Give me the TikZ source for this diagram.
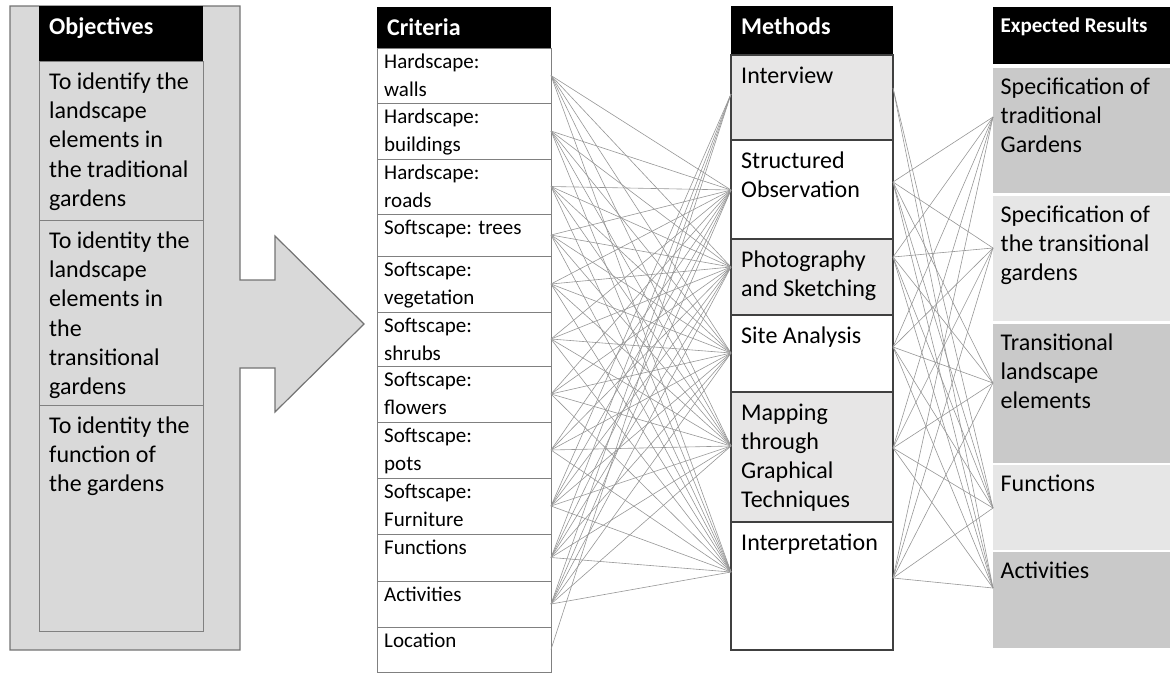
\documentclass[tikz,border=0pt]{standalone}
\usepackage{fontspec}
\setmainfont{Carlito}
\definecolor{panelgray}{RGB}{217,217,217}
\definecolor{rowgray}{RGB}{231,230,230}
\definecolor{resdark}{RGB}{201,201,201}
\definecolor{reslight}{RGB}{230,230,230}
\definecolor{linkgray}{RGB}{150,150,150}
\tikzset{
  cell/.style={anchor=north west, inner sep=0pt, outer sep=0pt},
  txt/.style={anchor=north west, align=left, text width=165,
    execute at begin node={\spaceskip=0pt\xspaceskip=0pt\strut}},
  hdrtxt/.style={txt, text=white, inner xsep=10, inner ysep=8, font=\bfseries\fontsize{24}{29}\selectfont},
  objtxt/.style={txt, inner xsep=10, inner ysep=7.5, font=\fontsize{24}{29.3}\selectfont},
  crittxt/.style={txt, inner xsep=7, inner ysep=1, font=\fontsize{21}{28}\selectfont},
  methtxt/.style={txt, inner xsep=10, inner ysep=8, font=\fontsize{24}{29}\selectfont},
  restxt/.style={txt, inner xsep=7.5, inner ysep=6, font=\fontsize{24}{29}\selectfont},
  objbox/.style={cell, draw=black!50, fill=panelgray, minimum width=164, line width=0.8},
  critbox/.style={cell, draw=black!50, fill=white, minimum width=174, line width=0.8},
  methbox/.style={cell, draw=black!75, minimum width=162, line width=1.3},
  resbox/.style={cell, minimum width=177},
  link/.style={draw=linkgray, line width=0.6}
}
\begin{document}
\begin{tikzpicture}[x=1pt, y=-1pt]
  \useasboundingbox (0,0) rectangle (1170,673);

  % objectives panel and arrow
  \draw[draw=black!55, fill=panelgray, line width=1.2] (10,6) -- (240,6) -- (240,280) -- (275,280)
    -- (275,236) -- (364,324) -- (275,412) -- (275,368) -- (240,368) -- (240,650) -- (10,650) -- cycle;
  \node[cell, fill=black, minimum width=164, minimum height=55, label={[hdrtxt]north west:Objectives}] (obj) at (39,6) {};
  \node[objbox, minimum height=159, label={[objtxt]north west:{To identify the\\landscape\\elements in\\the traditional\\gardens}}] (o1) at (39,61) {};
  \node[objbox, minimum height=185, label={[objtxt]north west:{To identity the\\landscape\\elements in\\the\\transitional\\gardens}}] (o2) at (39,220) {};
  \node[objbox, minimum height=226, label={[objtxt]north west:{To identity the\\function of\\the gardens}}] (o3) at (39,405) {};

  % criteria
  \node[cell, fill=black, minimum width=174, minimum height=41, label={[hdrtxt]north west:Criteria}] (crit) at (377,7) {};
  \node[critbox, minimum height=55, label={[crittxt]north west:{Hardscape:\\walls}}] (c1) at (377,48) {};
  \node[critbox, minimum height=56, label={[crittxt]north west:{Hardscape:\\buildings}}] (c2) at (377,103) {};
  \node[critbox, minimum height=55, label={[crittxt]north west:{Hardscape:\\roads}}] (c3) at (377,159) {};
  \node[critbox, minimum height=42, label={[crittxt]north west:{Softscape: trees}}] (c4) at (377,214) {};
  \node[critbox, minimum height=56, label={[crittxt]north west:{Softscape:\\vegetation}}] (c5) at (377,256) {};
  \node[critbox, minimum height=54, label={[crittxt]north west:{Softscape:\\shrubs}}] (c6) at (377,312) {};
  \node[critbox, minimum height=56, label={[crittxt]north west:{Softscape:\\flowers}}] (c7) at (377,366) {};
  \node[critbox, minimum height=56, label={[crittxt]north west:{Softscape:\\pots}}] (c8) at (377,422) {};
  \node[critbox, minimum height=56, label={[crittxt]north west:{Softscape:\\Furniture}}] (c9) at (377,478) {};
  \node[critbox, minimum height=47, label={[crittxt]north west:{Functions}}] (c10) at (377,534) {};
  \node[critbox, minimum height=46, label={[crittxt]north west:{Activities}}] (c11) at (377,581) {};
  \node[critbox, minimum height=45, label={[crittxt]north west:{Location}}] (c12) at (377,627) {};

  % methods
  \node[cell, fill=black, minimum width=162, minimum height=49, label={[hdrtxt]north west:Methods}] (meth) at (731,6) {};
  \node[methbox, fill=rowgray, minimum height=85, label={[methtxt]north west:{Interview}}] (m1) at (731,55) {};
  \node[methbox, fill=white, minimum height=99, label={[methtxt]north west:{Structured\\Observation}}] (m2) at (731,140) {};
  \node[methbox, fill=rowgray, minimum height=76, label={[methtxt]north west:{Photography\\and Sketching}}] (m3) at (731,239) {};
  \node[methbox, fill=white, minimum height=77, label={[methtxt]north west:{Site Analysis}}] (m4) at (731,315) {};
  \node[methbox, fill=rowgray, minimum height=130, label={[methtxt]north west:{Mapping\\through\\Graphical\\Techniques}}] (m5) at (731,392) {};
  \node[methbox, fill=white, minimum height=128, label={[methtxt]north west:{Interpretation}}] (m6) at (731,522) {};

  % expected results
  \node[resbox, fill=black, minimum height=57, label={[hdrtxt, inner xsep=7.5, inner ysep=6, font=\bfseries\fontsize{21}{28}\selectfont]north west:Expected Results}] (res) at (993,7) {};
  \node[resbox, fill=resdark, minimum height=125, label={[restxt]north west:{Specification of\\traditional\\Gardens}}] (r1) at (993,68) {};
  \node[resbox, fill=reslight, minimum height=125, label={[restxt]north west:{Specification of\\the transitional\\gardens}}] (r2) at (993,196) {};
  \node[resbox, fill=resdark, minimum height=139, label={[restxt]north west:{Transitional\\landscape\\elements}}] (r3) at (993,324) {};
  \node[resbox, fill=reslight, minimum height=85, label={[restxt]north west:{Functions}}] (r4) at (993,465) {};
  \node[resbox, fill=resdark, minimum height=96, label={[restxt]north west:{Activities}}] (r5) at (993,552) {};

  % criteria to methods
  \foreach \c in {1,...,11}
    \foreach \m/\s in {2/-0.5,3/10,4/0.5,5/11,6/14}
      \draw[link] (c\c.east) -- ([yshift=\s]m\m.west);
  \foreach \c in {9,...,12}
    \draw[link] (c\c.east) -- ([yshift=3.5]m1.west);

  % methods to results
  \foreach \m/\s in {2/7.5,3/20,4/6.5,5/9,6/8}
    \foreach \r/\t in {1/13.5,2/10.5,3/10.5,4/-0.5,5/12}
      \draw[link] ([yshift=\s]m\m.east) -- ([yshift=\t]r\r.west);
  \foreach \r/\t in {4/-0.5,5/12}
    \draw[link] ([yshift=9.5]m1.east) -- ([yshift=\t]r\r.west);
\end{tikzpicture}
\end{document}
